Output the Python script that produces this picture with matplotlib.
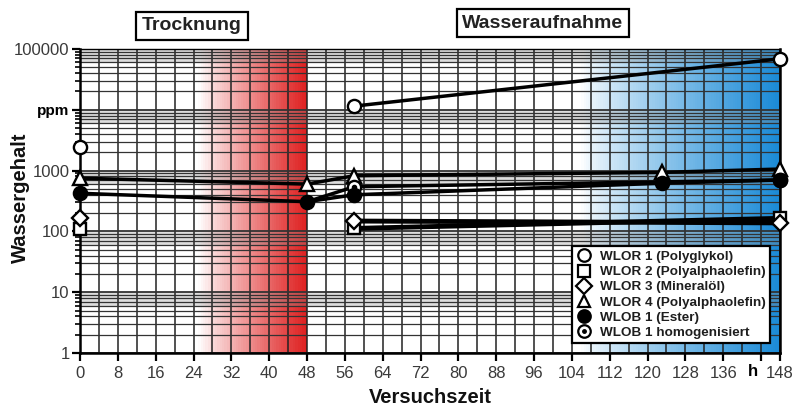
import numpy as np
import matplotlib
matplotlib.use("Agg")
import matplotlib.pyplot as plt
from matplotlib.lines import Line2D
from matplotlib import transforms

plt.rcParams['font.family'] = ['Liberation Sans', 'DejaVu Sans']

# data (h, ppm)
wlor1_x = [0, 58, 148]
wlor1_y = [2450, 11500, 69000]
wlor2_x = [0, 58, 148]
wlor2_y = [108, 112, 164]
wlor3_x = [0, 58, 148]
wlor3_y = [164, 148, 138]
wlor4_x = [0, 48, 58, 123, 148]
wlor4_y = [750, 600, 824, 935, 1060]
wlob1_x = [0, 48, 58, 123, 148]
wlob1_y = [424, 308, 400, 620, 700]
wlobh_x = [48, 58, 148]
wlobh_y = [308, 543, 700]

xticks = list(range(0, 144, 8)) + [144, 148]
xlabels = [str(t) for t in range(0, 144, 8)] + ['', '148']
yticks = [1, 10, 100, 1000, 10000, 100000]
ylabels = ['1', '10', '100', '1000', 'ppm', '100000']

fig = plt.figure(figsize=(7.94, 4.07), dpi=100)
ax = fig.add_axes([80/794, 1-353/407, 700/794, 304/407])
ax.set_yscale('log')
ax.set_xlim(0, 148)
ax.set_ylim(1, 100000)

# background gradients
red = np.array([0.87, 0.12, 0.12])
blue = np.array([0.10, 0.54, 0.84])
for x0 in np.arange(25, 48, 0.5):
    f = ((x0 + 0.25 - 25) / 23) ** 0.9
    ax.axvspan(x0, x0 + 0.5, color=(1 - f) * np.ones(3) + f * red, lw=0, zorder=0)
for x0 in np.arange(106, 148, 0.5):
    f = ((x0 + 0.25 - 106) / 42) ** 0.8
    ax.axvspan(x0, x0 + 0.5, color=(1 - f) * np.ones(3) + f * blue, lw=0, zorder=0)

# gray bands under each decade line
for d in [10, 100, 1000, 10000, 100000]:
    ax.axhspan(0.6 * d, d, color='#909090', alpha=0.3, lw=0, zorder=0.5)

# grid
for x in range(0, 149, 4):
    ax.axvline(x, color='#222222', lw=1.1, zorder=1)
for dec in [1, 10, 100, 1000, 10000]:
    for s in range(1, 10):
        ax.axhline(dec * s, color='#333333', lw=0.9 if s > 1 else 1.3, zorder=1)

ax.set_xticks(xticks)
ax.set_xticklabels(xlabels)
ax.set_yticks(yticks)
ax.set_yticklabels(ylabels)
ax.tick_params(axis='both', labelsize=12, labelcolor='#3a3a3a', width=1.6, length=6, direction='out', pad=1.5)
ax.tick_params(axis='x', pad=3)
ax.tick_params(axis='y', which='minor', length=3.5, width=1.2)
for lbl in ax.get_yticklabels():
    if lbl.get_text() == 'ppm':
        lbl.set_fontweight('bold')
        lbl.set_color('black')
        lbl.set_fontsize(11)

# bold unit label "h" sits just left of the 144 tick
tr = transforms.blended_transform_factory(ax.transData, ax.transAxes)
ax.text(142.2, -0.036, 'h', transform=tr, ha='center', va='top', fontsize=12,
        fontweight='bold', color='black')

for side in ['left', 'bottom', 'right']:
    ax.spines[side].set_linewidth(1.8)
ax.spines['top'].set_linewidth(1.0)

ax.set_xlabel('Versuchszeit', fontsize=14.5, fontweight='bold', color='#111111')
ax.set_ylabel('Wassergehalt', fontsize=14.5, fontweight='bold', color='#111111')
ax.xaxis.set_label_coords(0.5, -0.115)
ax.yaxis.set_label_coords(-0.072, 0.51)

mk = dict(markersize=9.5, markeredgecolor='black', markeredgewidth=1.7, clip_on=False, zorder=5)
lw = 2.5

# WLOR 1: first point stand-alone, then line
ax.plot(wlor1_x[:1], wlor1_y[:1], 'o', mfc='white', **mk)
ax.plot(wlor1_x[1:], wlor1_y[1:], '-o', color='black', lw=lw, mfc='white', **mk)
ax.plot(wlor2_x[:1], wlor2_y[:1], 's', mfc='white', **dict(mk, markersize=8.5))
ax.plot(wlor2_x[1:], wlor2_y[1:], '-s', color='black', lw=lw + 1, mfc='white', **dict(mk, markersize=8.5))
ax.plot(wlor3_x[:1], wlor3_y[:1], 'D', mfc='white', **dict(mk, markersize=8.5))
ax.plot(wlor3_x[1:], wlor3_y[1:], '-D', color='black', lw=lw + 1, mfc='white', **dict(mk, markersize=8.5))
ax.plot(wlor4_x, wlor4_y, '-^', color='black', lw=lw, mfc='white', **mk)
ax.plot(wlobh_x, wlobh_y, '-', color='black', lw=lw, zorder=4)
ax.plot(wlobh_x[1:], wlobh_y[1:], 'o', mfc='white', **mk)
ax.plot(wlobh_x[1:], wlobh_y[1:], 'o', color='black', markersize=3, clip_on=False, zorder=6)
ax.plot(wlob1_x, wlob1_y, '-o', color='black', lw=lw, mfc='black', **mk)

# legend
lm = dict(ls='none', mec='black', mew=1.6, ms=9)
h_open = Line2D([], [], marker='o', mfc='white', **lm)
h_sq = Line2D([], [], marker='s', mfc='white', **dict(lm, ms=8.5))
h_di = Line2D([], [], marker='D', mfc='white', **dict(lm, ms=8.5))
h_tr = Line2D([], [], marker='^', mfc='white', **lm)
h_fi = Line2D([], [], marker='o', mfc='black', **lm)
h_dot = Line2D([], [], marker='o', ls='none', mfc='black', mec='black', ms=2.5)
leg = ax.legend([h_open, h_sq, h_di, h_tr, h_fi, (h_open, h_dot)],
                ['WLOR 1 (Polyglykol)', 'WLOR 2 (Polyalphaolefin)', 'WLOR 3 (Mineralöl)',
                 'WLOR 4 (Polyalphaolefin)', 'WLOB 1 (Ester)', 'WLOB 1 homogenisiert'],
                loc='upper left', bbox_to_anchor=(572/794, 1-246/407), bbox_transform=fig.transFigure,
                prop={'weight': 'bold', 'size': 9.7}, handlelength=1.1, handletextpad=0.6,
                labelspacing=0.2, borderpad=0.35, borderaxespad=0, fancybox=False, framealpha=1,
                edgecolor='black', labelcolor='#1e1e1e')
leg.get_frame().set_linewidth(1.6)
leg.set_zorder(10)

box = dict(boxstyle='square,pad=0.3', fc='white', ec='black', lw=1.6)
fig.text(192/794, 1-26/407, 'Trocknung', ha='center', va='center', fontsize=14,
         fontweight='bold', color='#222222', bbox=box)
fig.text(543/794, 1-23/407, 'Wasseraufnahme', ha='center', va='center', fontsize=14,
         fontweight='bold', color='#222222', bbox=box)

fig.savefig('out.png', dpi=100)
